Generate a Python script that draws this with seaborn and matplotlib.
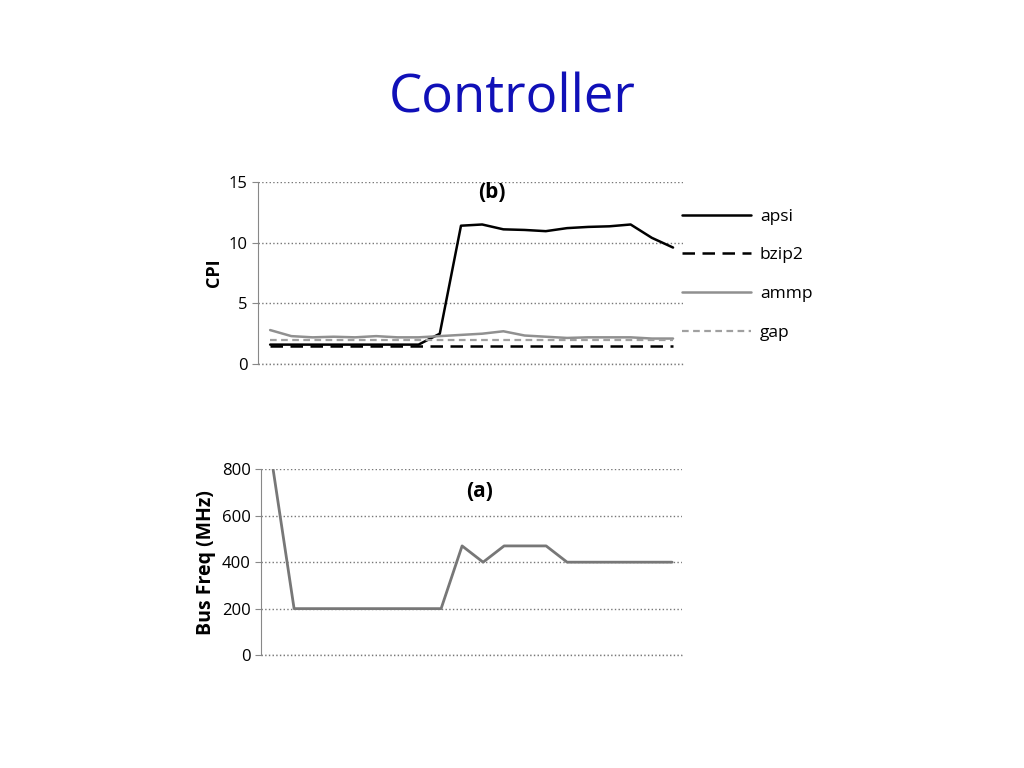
import matplotlib
matplotlib.use("Agg")
import matplotlib.pyplot as plt
import seaborn as sns
import pandas as pd
import numpy as np

steps = list(range(20))
apsi = [1.6,1.6,1.6,1.6,1.6,1.6,1.6,1.6,2.5,11.4,11.5,11.1,11.05,10.95,11.2,11.3,11.35,11.5,10.4,9.6]
bzip2 = [1.5]*20
ammp = [2.8,2.3,2.2,2.25,2.2,2.3,2.2,2.2,2.3,2.4,2.5,2.7,2.35,2.25,2.15,2.2,2.2,2.2,2.1,2.1]
gap = [2.0]*20
bus = [800,200,200,200,200,200,200,200,200,470,400,470,470,470,400,400,400,400,400,400]

sns.set_style("white")
plt.rcParams['font.family'] = ['Open Sans', 'DejaVu Sans']
fig = plt.figure(figsize=(10.24, 7.68), dpi=100)
fig.text(0.5, 0.872, "Controller", ha="center", va="center", fontsize=38, color="#1010b8")

def style(ax, ymax, ticks):
    ax.set_xlim(-0.57, 19.47)
    ax.set_ylim(0, ymax)
    ax.set_yticks(ticks)
    for s in ["top", "right", "bottom"]:
        ax.spines[s].set_visible(False)
    ax.spines["left"].set_color("#888888")
    ax.set_xticks([])
    ax.grid(axis="y", linestyle=":", color="#777777", linewidth=1)
    ax.axhline(0, linestyle=":", color="#777777", linewidth=1, clip_on=False, zorder=0)
    ax.tick_params(axis="y", labelsize=12, length=4, color="#888888", left=True, labelcolor="black")
    ax.set_xlabel("")

ax1 = fig.add_axes([0.252, 0.526, 0.415, 0.237])
df = pd.DataFrame({"x": steps, "apsi": apsi, "bzip2": bzip2, "ammp": ammp, "gap": gap})
sns.lineplot(data=df, x="x", y="apsi", ax=ax1, color="black", lw=1.8, label="apsi")
sns.lineplot(data=df, x="x", y="bzip2", ax=ax1, color="black", lw=1.8, ls=(0, (5, 3)), label="bzip2")
sns.lineplot(data=df, x="x", y="ammp", ax=ax1, color="#909090", lw=1.8, label="ammp")
sns.lineplot(data=df, x="x", y="gap", ax=ax1, color="#a0a0a0", lw=1.6, ls=(0, (3, 2)), label="gap")
style(ax1, 15, [0, 5, 10, 15])
ax1.set_ylabel("CPI", fontsize=13, fontweight="bold", color="black")
ax1.text(0.55, 0.91, "(b)", transform=ax1.transAxes, ha="center", fontsize=15, fontweight="bold", color="black")
ax1.legend(loc="upper left", bbox_to_anchor=(0.96, 0.94), frameon=False, fontsize=12.5,
           handlelength=4.0, handletextpad=0.5, labelspacing=1.3, labelcolor="black")

ax2 = fig.add_axes([0.255, 0.147, 0.411, 0.242])
sns.lineplot(x=steps, y=bus, ax=ax2, color="#777777", lw=2)
style(ax2, 800, [0, 200, 400, 600, 800])
ax2.set_ylabel("Bus Freq (MHz)", fontsize=14, fontweight="bold", color="black")
ax2.text(0.52, 0.85, "(a)", transform=ax2.transAxes, ha="center", fontsize=15, fontweight="bold", color="black")

fig.savefig("out.png", dpi=100)
